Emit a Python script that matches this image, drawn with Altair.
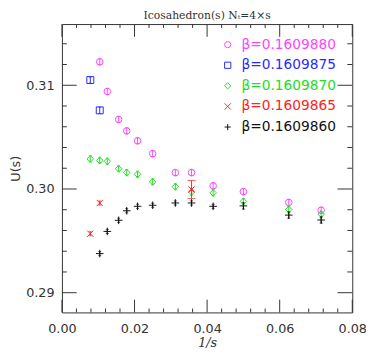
import altair as alt
import pandas as pd

# ---------------- data ----------------
series_names = ["β=0.1609880", "β=0.1609875", "β=0.1609870", "β=0.1609865", "β=0.1609860"]
series_colors = ["#ff44ff", "#2a2aff", "#22dd22", "#ff2222", "#111111"]
series_shapes = ["circle", "square", "diamond", "M-1,-1L1,1M-1,1L1,-1", "M-1,0L1,0M0,-1L0,1"]
series_sizes = [45, 50, 45, 40, 60]

s_m = [96, 80, 64, 56, 48, 40, 32, 28, 24, 20, 16, 14]
u_m = [0.31226, 0.3094, 0.3067, 0.3056, 0.30465, 0.3034, 0.30158, 0.30158, 0.3003, 0.29975, 0.2987, 0.29795]
e_m = [0.0003] * 12

s_b = [128, 96]
u_b = [0.3105, 0.30758]
e_b = [0.0003, 0.0003]

s_g = [128, 96, 80, 64, 56, 48, 40, 32, 28, 24, 20, 16, 14]
u_g = [0.3029, 0.30276, 0.30267, 0.30195, 0.30158, 0.30142, 0.30069, 0.30022, 0.29972, 0.29962, 0.2988, 0.29802, 0.29758]
e_g = [0.0003] * 13

s_r = [128, 96, 28]
u_r = [0.29569, 0.29865, 0.29995]
e_r = [0.0002, 0.0002, 0.00087]

s_k = [96, 80, 64, 56, 48, 40, 32, 28, 24, 20, 16, 14]
u_k = [0.29377, 0.29591, 0.29698, 0.2979, 0.29833, 0.29843, 0.29865, 0.29865, 0.29833, 0.29837, 0.29748, 0.29701]
e_k = [0.0002, 0.0002, 0.0002, 0.0002, 0.0002, 0.0002, 0.0002, 0.0002, 0.0002, 0.0003, 0.0003, 0.0003]

x_major = [0.0, 0.02, 0.04, 0.06, 0.08]
x_minor = [0.004, 0.008, 0.012, 0.016, 0.024, 0.028, 0.032, 0.036, 0.044, 0.048, 0.052, 0.056, 0.064, 0.068, 0.072, 0.076]
y_major = [0.29, 0.30, 0.31]
y_minor = [0.292, 0.294, 0.296, 0.298, 0.302, 0.304, 0.306, 0.308, 0.312, 0.314]

all_s = [s_m, s_b, s_g, s_r, s_k]
all_u = [u_m, u_b, u_g, u_r, u_k]
all_e = [e_m, e_b, e_g, e_r, e_k]

W, H = 296, 294
XD = [0.0, 0.08]
YD = [0.2881, 0.3159]
frame = "#333333"


def xs():
    return alt.Scale(domain=XD, nice=False, zero=False)


def ys():
    return alt.Scale(domain=YD, nice=False, zero=False)


# the same axis definition is given to every layer so that the shared axes merge
x_axis = alt.Axis(values=x_major, format=".2f", ticks=False, domain=False, grid=False,
                  labelFlush=False, labelFont="DejaVu Sans", labelFontSize=13,
                  labelColor=frame, labelPadding=10, orient="bottom",
                  title="1/s", titleFont="DejaVu Serif", titleFontStyle="italic",
                  titleFontWeight="normal", titleFontSize=13, titleColor=frame,
                  titleBaseline="top", titleY=25)
y_axis = alt.Axis(values=y_major, format=".2f", ticks=False, domain=False, grid=False,
                  labelFlush=False, labelFont="DejaVu Sans", labelFontSize=13,
                  labelColor=frame, labelPadding=8, orient="left",
                  title="U(s)", titleFont="DejaVu Sans", titleFontWeight="normal",
                  titleFontSize=13, titleColor=frame, titleX=-40)

layers = []

# ---------------- series ----------------
for i, (name, col, shp, sz, ss, uu, ee) in enumerate(
        zip(series_names, series_colors, series_shapes, series_sizes, all_s, all_u, all_e)):
    d = pd.DataFrame({
        "series": [name] * len(ss),
        "x": [1.0 / s for s in ss],
        "U": uu,
        "lo": [u - e for u, e in zip(uu, ee)],
        "hi": [u + e for u, e in zip(uu, ee)],
        "cap": [8 if e > 0.0005 else 3 for e in ee],
    })
    b = alt.Chart(d)
    pts = b.mark_point(filled=False, strokeWidth=1, size=sz, opacity=1, shape=shp).encode(
        x=alt.X("x:Q", scale=xs(), axis=x_axis),
        y=alt.Y("U:Q", scale=ys(), axis=y_axis),
        color=alt.Color("series:N", scale=alt.Scale(domain=[name], range=[col]),
                        legend=alt.Legend(
                            title=None, orient="none", legendX=162, legendY=14 + 21 * i,
                            labelFont="DejaVu Sans", labelFontSize=14, labelLimit=200,
                            labelColor=col, symbolSize=40, symbolStrokeWidth=1,
                            symbolStrokeColor=col, symbolType=shp,
                            labelOffset=7, padding=0, offset=0)),
    )
    err = b.mark_rule(strokeWidth=1, color=col).encode(
        x=alt.X("x:Q", scale=xs(), axis=x_axis),
        y=alt.Y("lo:Q", scale=ys(), axis=y_axis),
        y2="hi:Q",
    )
    cap_lo = b.mark_tick(thickness=1, orient="horizontal", color=col).encode(
        x=alt.X("x:Q", scale=xs(), axis=x_axis),
        y=alt.Y("lo:Q", scale=ys(), axis=y_axis),
        size=alt.Size("cap:Q", scale=None, legend=None),
    )
    cap_hi = b.mark_tick(thickness=1, orient="horizontal", color=col).encode(
        x=alt.X("x:Q", scale=xs(), axis=x_axis),
        y=alt.Y("hi:Q", scale=ys(), axis=y_axis),
        size=alt.Size("cap:Q", scale=None, legend=None),
    )
    layers += [pts, err, cap_lo, cap_hi]


# ---------------- frame ticks (inward) ----------------
def xticks(vals, L):
    d = pd.DataFrame({"t": vals})
    b = alt.Chart(d).mark_rule(color=frame, strokeWidth=1)
    bot = b.encode(x=alt.X("t:Q", scale=xs(), axis=x_axis), y=alt.value(H), y2=alt.value(H - L))
    top = b.encode(x=alt.X("t:Q", scale=xs(), axis=x_axis), y=alt.value(0), y2=alt.value(L))
    return [bot, top]


def yticks(vals, L):
    d = pd.DataFrame({"t": vals})
    b = alt.Chart(d).mark_rule(color=frame, strokeWidth=1)
    lef = b.encode(y=alt.Y("t:Q", scale=ys(), axis=y_axis), x=alt.value(0), x2=alt.value(L))
    rig = b.encode(y=alt.Y("t:Q", scale=ys(), axis=y_axis), x=alt.value(W), x2=alt.value(W - L))
    return [lef, rig]


layers += xticks(x_major, 13) + xticks(x_minor, 4) + yticks(y_major, 15) + yticks(y_minor, 5)

chart = alt.layer(*layers).resolve_scale(color="independent").properties(
    width=W, height=H,
    title=alt.TitleParams("Icosahedron(s) Nₜ=4×s", font="DejaVu Serif", fontSize=11,
                          fontWeight="normal", color=frame, anchor="middle", offset=3),
    autosize=alt.AutoSizeParams(type="none"),
    padding={"left": 55, "top": 13, "right": 14, "bottom": 38},
).configure_view(stroke=frame, strokeWidth=1).configure_axis(grid=False)

chart.save("out.html", embed_options={"renderer": "svg", "actions": False})
